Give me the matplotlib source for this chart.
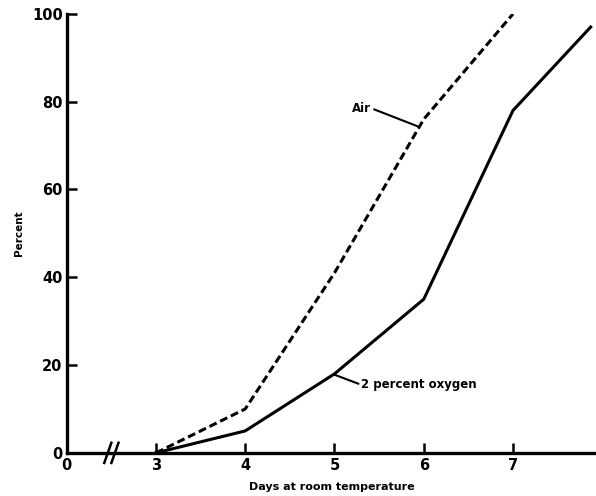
import matplotlib
matplotlib.use('Agg')
import matplotlib.pyplot as plt

# days, with the axis broken between 0 and 3 (0 drawn at position 2)
days_air = [3, 4, 5, 6, 7]
pct_air = [0, 10, 41, 76, 100]
days_oxy = [3, 4, 5, 6, 7, 7.87]
pct_oxy = [0, 5, 18, 35, 78, 97]
xtick_pos = [2, 3, 4, 5, 6, 7]
xtick_lab = ['0', '3', '4', '5', '6', '7']
yticks = [0, 20, 40, 60, 80, 100]

plt.rcParams['font.family'] = ['DejaVu Sans']
plt.rcParams['font.weight'] = 'bold'

fig = plt.figure(figsize=(5.96, 4.96), dpi=100)
ax = fig.add_axes([0.112, 0.087, 0.888, 0.885])

lw = 2.2
ax.plot(days_air, pct_air, color='black', lw=lw, dashes=(2.6, 1.3), solid_capstyle='butt')
ax.plot(days_oxy, pct_oxy, color='black', lw=lw, clip_on=False)

ax.set_xlim(2, 7.93)
ax.set_ylim(0, 100)
for s in ['top', 'right']:
    ax.spines[s].set_visible(False)
for s in ['left', 'bottom']:
    ax.spines[s].set_linewidth(2.4)

ax.set_xticks(xtick_pos)
ax.set_xticklabels(xtick_lab)
ax.set_yticks(yticks)
ax.tick_params(direction='in', length=7, width=1.8, labelsize=10.5, pad=3)
ax.tick_params(axis='x', pad=4)

# axis break marks
for xb in [2.46, 2.54]:
    ax.plot([xb - 0.04, xb + 0.04], [-2.3, 2.3], color='black', lw=1.8, clip_on=False)

# labels with leader lines
ax.annotate('Air', xy=(5.93, 74.4), xytext=(5.2, 78.5), fontsize=8.5, fontweight='bold',
            va='center', ha='left',
            arrowprops=dict(arrowstyle='-', color='black', lw=1.5, shrinkA=0, shrinkB=0,
                            relpos=(1.0, 0.5)))
ax.annotate('2 percent oxygen', xy=(5.0, 17.8), xytext=(5.3, 15.5), fontsize=8.5,
            fontweight='bold', va='center', ha='left',
            arrowprops=dict(arrowstyle='-', color='black', lw=1.5, shrinkA=0, shrinkB=0,
                            relpos=(0.0, 0.5)))

ax.set_xlabel('Days at room temperature', fontsize=8, fontweight='bold', labelpad=6)
ax.set_ylabel('Percent', fontsize=7.5, fontweight='bold', labelpad=6)

fig.savefig('out.png', dpi=100)
